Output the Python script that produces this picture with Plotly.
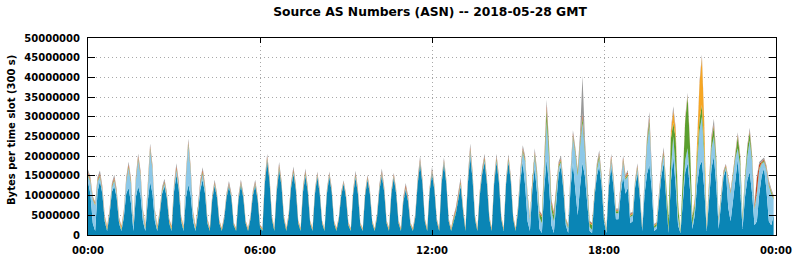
import pandas as pd
import plotly.graph_objects as go

# 5-minute slots (288) for 2018-05-28, values in millions of bytes per slot
slot_times = pd.date_range("2018-05-28 00:00", periods=288, freq="5min")

dark_blue = [
    13.5, 10.5, 3.0, 1.0, 11.0, 13.8, 10.5, 3.5, 1.0, 5.0,
    11.0, 12.4, 9.5, 3.0, 1.0, 4.5, 10.5, 12.0, 8.0, 1.0,
    9.5, 12.4, 10.0, 3.5, 1.0, 8.5, 13.6, 10.5, 3.5, 1.0,
    5.0, 10.5, 12.4, 9.5, 3.0, 1.0, 11.0, 15.3, 11.5, 3.5,
    1.0, 9.5, 12.8, 10.0, 3.5, 1.0, 5.5, 11.5, 14.0, 10.5,
    3.0, 1.0, 9.0, 12.5, 9.5, 3.0, 1.0, 4.0, 9.5, 12.3,
    9.5, 2.5, 1.0, 9.0, 12.6, 9.5, 3.0, 1.0, 4.0, 10.0,
    12.5, 9.0, 2.0, 1.0, 13.0, 18.7, 13.5, 4.0, 1.0, 11.0,
    16.5, 12.5, 4.0, 1.0, 4.5, 12.0, 15.5, 11.5, 3.0, 1.0,
    11.0, 15.0, 11.0, 3.0, 1.0, 10.5, 14.8, 10.5, 3.0, 1.0,
    10.5, 14.8, 11.0, 3.0, 1.0, 4.0, 10.0, 13.0, 9.5, 2.5,
    1.0, 10.5, 14.5, 10.5, 2.5, 1.0, 10.0, 14.0, 10.5, 3.0,
    1.0, 4.5, 11.5, 15.0, 11.0, 3.0, 1.0, 10.5, 14.5, 10.5,
    3.0, 1.0, 8.5, 11.5, 8.5, 2.5, 1.0, 4.5, 13.0, 18.0,
    13.0, 3.5, 1.0, 11.0, 15.5, 11.5, 3.5, 1.0, 13.0, 18.0,
    13.0, 3.5, 1.0, 3.5, 5.5, 9.0, 12.5, 6.0, 1.0, 13.0,
    20.0, 14.0, 4.0, 1.0, 10.0, 15.5, 18.5, 13.0, 4.0, 1.0,
    13.0, 18.5, 13.5, 4.0, 1.0, 13.0, 18.5, 13.5, 4.0, 1.0,
    6.0, 14.0, 18.5, 12.5, 3.5, 1.0, 11.5, 17.0, 10.5, 1.5,
    0.5, 12.0, 19.2, 12.5, 2.5, 0.5, 9.0, 15.5, 17.5, 11.5,
    2.5, 0.5, 12.0, 18.3, 11.5, 5.0, 12.5, 18.3, 15.0, 7.0,
    1.0, 0.5, 9.5, 15.0, 17.5, 12.5, 3.5, 0.5, 12.0, 17.5,
    12.0, 4.0, 4.0, 10.5, 15.0, 10.5, 12.0, 3.0, 3.5, 12.0,
    15.8, 9.5, 1.0, 10.5, 15.5, 17.9, 11.5, 1.0, 1.5, 8.5,
    15.0, 18.3, 8.5, 0.5, 13.5, 20.0, 12.5, 2.5, 0.5, 9.5,
    16.0, 18.3, 11.5, 1.5, 5.0, 13.0, 17.5, 18.7, 11.5, 1.0,
    9.5, 17.0, 20.0, 12.5, 1.5, 8.5, 14.5, 16.6, 7.0, 3.5,
    9.0, 13.5, 19.2, 11.5, 1.5, 9.5, 14.0, 16.0, 10.5, 2.5,
    3.5, 10.5, 15.0, 17.0, 11.5, 3.5, 2.5, 5.0,
]

light_blue = [
    1.5, 3.0, 6.0, 6.5, 2.5, 1.0, 0.8, 0.5, 0.2, 0.5,
    1.0, 1.4, 1.0, 0.5, 0.2, 1.0, 3.0, 5.0, 5.0, 1.5,
    4.0, 6.7, 5.0, 2.0, 0.5, 4.0, 8.0, 6.0, 2.0, 0.3,
    0.3, 0.5, 0.6, 0.4, 0.2, 0.2, 0.8, 1.2, 0.8, 0.3,
    0.3, 5.0, 10.0, 6.0, 1.5, 0.3, 0.8, 1.2, 1.5, 1.0,
    0.3, 0.1, 0.3, 0.3, 0.3, 0.2, 0.1, 0.2, 0.3, 0.3,
    0.3, 0.1, 0.1, 0.3, 0.3, 0.3, 0.1, 0.1, 0.2, 0.3,
    0.3, 0.2, 0.1, 0.1, 0.3, 0.4, 0.3, 0.1, 0.1, 0.3,
    0.4, 0.3, 0.1, 0.1, 0.2, 0.3, 0.4, 0.3, 0.1, 0.1,
    0.3, 0.4, 0.3, 0.1, 0.1, 0.3, 0.3, 0.3, 0.1, 0.1,
    0.3, 0.3, 0.3, 0.1, 0.1, 0.2, 0.3, 0.2, 0.2, 0.1,
    0.1, 0.3, 0.4, 0.3, 0.1, 0.1, 0.3, 0.3, 0.3, 0.1,
    0.1, 0.2, 0.3, 0.4, 0.3, 0.1, 0.1, 0.3, 0.3, 0.3,
    0.1, 0.1, 0.3, 0.3, 0.3, 0.1, 0.1, 0.2, 0.3, 0.4,
    0.3, 0.1, 0.1, 0.3, 0.4, 0.3, 0.1, 0.1, 0.3, 0.4,
    0.3, 0.1, 0.1, 0.3, 0.3, 0.4, 0.5, 0.3, 0.1, 0.5,
    1.2, 0.8, 0.3, 0.1, 0.3, 0.4, 0.5, 0.4, 0.2, 0.1,
    0.3, 0.5, 0.4, 0.2, 0.1, 0.3, 0.5, 0.4, 0.2, 0.1,
    0.5, 1.5, 2.5, 6.0, 6.0, 3.0, 2.0, 3.0, 4.0, 3.0,
    2.5, 4.0, 9.7, 7.0, 4.0, 3.0, 2.0, 1.5, 1.0, 1.0,
    1.0, 1.2, 3.0, 6.4, 9.0, 10.0, 10.0, 10.2, 6.0, 4.0,
    1.0, 0.8, 1.0, 1.5, 2.0, 1.5, 0.8, 0.5, 1.0, 1.5,
    1.5, 1.5, 1.5, 2.5, 3.5, 3.5, 3.0, 1.5, 1.5, 1.0,
    1.0, 1.0, 0.4, 3.0, 7.0, 9.7, 5.0, 0.8, 0.8, 1.0,
    1.5, 2.0, 2.0, 0.5, 3.0, 5.0, 4.0, 2.0, 0.1, 2.0,
    3.0, 3.7, 3.0, 1.0, 2.0, 5.0, 9.0, 11.3, 8.0, 0.5,
    3.0, 5.0, 5.0, 5.0, 2.0, 1.0, 0.8, 0.5, 7.0, 7.0,
    6.0, 6.0, 2.8, 6.0, 2.0, 4.0, 6.0, 8.0, 8.0, 4.0,
    7.0, 6.0, 3.0, 1.5, 5.0, 9.0, 8.0, 4.0,
]

green = [
    0.3, 0.3, 0.2, 0.2, 0.3, 0.3, 0.2, 0.2, 0.3, 0.2,
    0.3, 0.3, 0.2, 0.2, 0.3, 0.2, 0.3, 0.4, 0.3, 0.3,
    0.3, 0.4, 0.3, 0.2, 0.3, 0.3, 0.4, 0.3, 0.2, 0.3,
    0.2, 0.3, 0.3, 0.2, 0.2, 0.3, 0.3, 0.3, 0.3, 0.2,
    0.3, 0.3, 0.4, 0.3, 0.2, 0.3, 0.2, 0.3, 0.4, 0.3,
    0.2, 0.2, 0.2, 0.3, 0.2, 0.1, 0.2, 0.1, 0.2, 0.2,
    0.2, 0.1, 0.2, 0.2, 0.3, 0.2, 0.1, 0.2, 0.1, 0.2,
    0.3, 0.2, 0.1, 0.2, 0.3, 0.3, 0.3, 0.2, 0.2, 0.2,
    0.4, 0.3, 0.2, 0.2, 0.2, 0.3, 0.4, 0.3, 0.2, 0.2,
    0.3, 0.4, 0.3, 0.1, 0.2, 0.2, 0.2, 0.2, 0.1, 0.2,
    0.2, 0.2, 0.2, 0.1, 0.2, 0.1, 0.2, 0.1, 0.1, 0.1,
    0.1, 0.2, 0.3, 0.2, 0.1, 0.1, 0.2, 0.2, 0.2, 0.1,
    0.1, 0.2, 0.3, 0.3, 0.2, 0.1, 0.2, 0.2, 0.2, 0.2,
    0.1, 0.2, 0.2, 0.2, 0.2, 0.1, 0.2, 0.1, 0.3, 0.3,
    0.2, 0.1, 0.2, 0.2, 0.3, 0.2, 0.1, 0.2, 0.2, 0.3,
    0.2, 0.1, 0.2, 0.2, 0.3, 0.3, 0.4, 0.2, 0.2, 0.3,
    0.5, 0.4, 0.2, 0.2, 0.3, 0.3, 0.4, 0.3, 0.2, 0.2,
    0.3, 0.4, 0.3, 0.2, 0.2, 0.3, 0.4, 0.3, 0.2, 0.2,
    0.3, 0.4, 0.5, 0.5, 0.4, 0.3, 0.5, 0.6, 0.8, 1.0,
    1.5, 1.5, 3.0, 2.0, 1.5, 1.5, 0.8, 0.6, 0.5, 0.4,
    0.3, 0.4, 0.4, 0.5, 0.6, 0.8, 1.0, 1.3, 1.0, 1.0,
    1.0, 1.2, 0.6, 0.7, 0.8, 0.6, 0.4, 0.3, 0.3, 0.4,
    0.4, 0.5, 0.5, 0.5, 0.5, 0.4, 0.4, 0.4, 0.3, 0.4,
    0.4, 0.3, 0.2, 0.5, 1.0, 1.5, 1.0, 0.5, 0.5, 0.5,
    0.5, 0.5, 1.0, 3.0, 8.0, 3.5, 8.0, 3.0, 0.3, 3.0,
    10.0, 13.0, 8.0, 1.9, 1.0, 2.0, 3.0, 3.0, 2.0, 0.2,
    1.0, 2.0, 2.5, 1.5, 0.5, 0.3, 0.3, 0.3, 0.2, 0.2,
    0.5, 1.5, 3.0, 2.0, 0.9, 1.0, 2.0, 2.0, 1.0, 0.3,
    0.3, 0.3, 0.3, 0.4, 0.3, 0.3, 0.3, 0.3,
]

orange = [
    0.2, 0.2, 0.2, 0.3, 0.1, 0.2, 0.2, 0.3, 0.4, 0.2,
    0.1, 0.2, 0.2, 0.3, 0.5, 0.2, 0.1, 0.2, 0.3, 0.4,
    0.2, 0.2, 0.2, 0.3, 0.5, 0.2, 0.2, 0.2, 0.3, 0.5,
    0.2, 0.1, 0.1, 0.2, 0.3, 0.5, 0.1, 0.2, 0.2, 0.3,
    0.4, 0.2, 0.2, 0.2, 0.3, 0.4, 0.2, 0.1, 0.2, 0.2,
    0.2, 0.3, 0.1, 0.1, 0.1, 0.2, 0.3, 0.1, 0.1, 0.1,
    0.1, 0.2, 0.3, 0.1, 0.1, 0.1, 0.2, 0.3, 0.1, 0.1,
    0.1, 0.1, 0.2, 0.3, 0.1, 0.2, 0.1, 0.2, 0.3, 0.1,
    0.2, 0.1, 0.2, 0.3, 0.1, 0.1, 0.1, 0.1, 0.2, 0.3,
    0.1, 0.1, 0.1, 0.2, 0.3, 0.1, 0.1, 0.1, 0.2, 0.2,
    0.1, 0.1, 0.1, 0.2, 0.3, 0.1, 0.1, 0.1, 0.2, 0.3,
    0.3, 0.1, 0.1, 0.1, 0.2, 0.3, 0.1, 0.1, 0.1, 0.2,
    0.3, 0.1, 0.1, 0.1, 0.1, 0.2, 0.4, 0.1, 0.1, 0.1,
    0.2, 0.3, 0.1, 0.1, 0.1, 0.2, 0.3, 0.1, 0.1, 0.2,
    0.1, 0.2, 0.3, 0.1, 0.1, 0.1, 0.2, 0.3, 0.1, 0.1,
    0.1, 0.2, 0.3, 0.2, 0.2, 0.2, 0.1, 0.2, 0.3, 0.1,
    0.2, 0.1, 0.2, 0.3, 0.1, 0.1, 0.2, 0.1, 0.2, 0.3,
    0.1, 0.2, 0.1, 0.2, 0.3, 0.1, 0.2, 0.1, 0.2, 0.3,
    0.1, 0.1, 0.2, 0.2, 0.2, 0.3, 0.1, 0.2, 0.2, 0.2,
    0.2, 0.2, 0.3, 0.2, 0.2, 0.2, 0.1, 0.1, 0.2, 0.2,
    0.2, 0.2, 0.1, 0.2, 0.2, 0.2, 0.2, 0.3, 0.2, 0.2,
    0.2, 0.2, 0.1, 0.1, 0.2, 0.1, 0.2, 0.2, 0.1, 0.2,
    0.1, 0.2, 0.2, 0.1, 0.2, 0.2, 0.2, 0.2, 0.2, 0.1,
    0.2, 0.1, 0.2, 0.1, 0.2, 0.3, 0.2, 0.2, 0.2, 0.1,
    0.1, 0.2, 0.2, 0.1, 1.5, 3.0, 2.0, 0.8, 0.1, 0.3,
    0.3, 0.3, 0.3, 0.2, 1.0, 4.0, 9.0, 12.0, 6.0, 0.8,
    0.2, 0.2, 0.2, 0.2, 0.2, 0.1, 0.1, 0.2, 0.2, 0.2,
    0.1, 0.1, 0.2, 0.2, 0.2, 0.1, 0.1, 0.2, 0.2, 0.3,
    0.2, 0.2, 0.1, 0.1, 0.2, 0.2, 0.2, 0.2,
]

red = [
    0.4, 0.3, 0.2, 0.2, 0.3, 0.4, 0.3, 0.2, 0.2, 0.2,
    0.3, 0.4, 0.3, 0.2, 0.2, 0.2, 0.3, 0.4, 0.3, 0.2,
    0.3, 0.4, 0.3, 0.2, 0.2, 0.3, 0.4, 0.3, 0.2, 0.2,
    0.2, 0.3, 0.3, 0.2, 0.2, 0.2, 0.3, 0.6, 0.4, 0.2,
    0.2, 0.3, 0.4, 0.3, 0.2, 0.2, 0.3, 0.4, 0.5, 0.3,
    0.2, 0.2, 0.2, 0.3, 0.2, 0.1, 0.1, 0.2, 0.2, 0.3,
    0.2, 0.1, 0.1, 0.2, 0.3, 0.2, 0.1, 0.1, 0.2, 0.2,
    0.3, 0.2, 0.1, 0.1, 0.3, 0.4, 0.3, 0.2, 0.1, 0.3,
    0.4, 0.3, 0.2, 0.1, 0.2, 0.3, 0.4, 0.3, 0.1, 0.1,
    0.3, 0.4, 0.3, 0.1, 0.1, 0.2, 0.3, 0.2, 0.1, 0.1,
    0.2, 0.3, 0.2, 0.1, 0.1, 0.1, 0.2, 0.2, 0.2, 0.1,
    0.1, 0.2, 0.4, 0.3, 0.1, 0.1, 0.2, 0.3, 0.2, 0.1,
    0.1, 0.2, 0.3, 0.4, 0.3, 0.1, 0.1, 0.2, 0.3, 0.2,
    0.1, 0.1, 0.3, 0.6, 0.4, 0.1, 0.1, 0.2, 0.3, 0.4,
    0.3, 0.1, 0.1, 0.2, 0.3, 0.2, 0.1, 0.1, 0.3, 0.3,
    0.2, 0.1, 0.1, 0.3, 0.4, 0.5, 0.4, 0.2, 0.1, 0.3,
    0.5, 0.3, 0.1, 0.1, 0.2, 0.3, 0.4, 0.3, 0.1, 0.1,
    0.3, 0.4, 0.3, 0.1, 0.1, 0.3, 0.3, 0.2, 0.1, 0.1,
    0.2, 0.3, 0.4, 0.3, 0.2, 0.1, 0.3, 0.4, 0.3, 0.3,
    0.3, 0.5, 1.0, 0.6, 0.5, 0.5, 0.3, 0.3, 0.3, 0.2,
    0.1, 0.2, 0.3, 0.5, 0.3, 0.3, 0.4, 0.8, 0.5, 0.3,
    0.2, 0.2, 0.2, 0.3, 0.3, 0.2, 0.1, 0.1, 0.3, 0.5,
    0.3, 0.2, 0.2, 0.3, 0.5, 0.3, 0.4, 0.2, 0.2, 0.2,
    0.3, 0.2, 0.1, 0.3, 0.5, 0.6, 0.3, 0.1, 0.1, 0.2,
    0.3, 0.5, 0.3, 0.1, 0.2, 0.3, 0.2, 0.1, 0.1, 0.1,
    0.2, 0.2, 0.2, 0.1, 0.1, 0.1, 0.2, 0.2, 0.2, 0.1,
    0.2, 0.4, 0.5, 0.3, 0.1, 0.1, 0.2, 0.2, 0.2, 0.2,
    0.3, 0.3, 0.3, 0.3, 0.1, 0.2, 0.2, 0.3, 0.3, 0.4,
    3.5, 1.0, 0.3, 0.3, 0.3, 0.3, 0.3, 0.2,
]

gray = [
    0.7, 0.5, 0.3, 0.2, 0.5, 0.7, 0.5, 0.3, 0.1, 0.3,
    0.5, 0.6, 0.5, 0.3, 0.1, 0.3, 0.5, 0.6, 0.5, 0.2,
    0.5, 0.6, 0.5, 0.3, 0.1, 0.4, 0.6, 0.5, 0.3, 0.1,
    0.3, 0.5, 0.6, 0.5, 0.3, 0.1, 0.5, 0.6, 0.5, 0.3,
    0.1, 0.5, 0.7, 0.5, 0.3, 0.1, 0.3, 0.5, 0.6, 0.5,
    0.3, 0.1, 0.4, 0.5, 0.4, 0.2, 0.1, 0.3, 0.4, 0.5,
    0.4, 0.2, 0.1, 0.4, 0.5, 0.4, 0.2, 0.1, 0.3, 0.4,
    0.5, 0.4, 0.2, 0.1, 0.4, 0.6, 0.4, 0.2, 0.1, 0.4,
    0.6, 0.4, 0.2, 0.1, 0.3, 0.4, 0.6, 0.4, 0.2, 0.1,
    0.4, 0.6, 0.4, 0.2, 0.1, 0.3, 0.4, 0.4, 0.2, 0.1,
    0.3, 0.4, 0.4, 0.2, 0.1, 0.2, 0.3, 0.3, 0.3, 0.2,
    0.1, 0.4, 0.6, 0.4, 0.2, 0.1, 0.3, 0.4, 0.4, 0.2,
    0.1, 0.3, 0.5, 0.7, 0.4, 0.2, 0.1, 0.3, 0.4, 0.4,
    0.2, 0.1, 0.4, 0.5, 0.4, 0.2, 0.1, 0.3, 0.5, 0.7,
    0.5, 0.2, 0.1, 0.4, 0.7, 0.5, 0.2, 0.1, 0.4, 0.6,
    0.4, 0.2, 0.1, 0.3, 0.4, 0.5, 0.7, 0.3, 0.1, 0.5,
    0.8, 0.5, 0.2, 0.1, 0.4, 0.6, 0.6, 0.5, 0.2, 0.1,
    0.4, 0.6, 0.5, 0.2, 0.1, 0.4, 0.6, 0.5, 0.2, 0.1,
    0.3, 0.6, 0.7, 0.5, 0.3, 0.2, 0.5, 0.8, 0.5, 0.3,
    0.2, 0.6, 1.1, 0.6, 0.4, 0.3, 0.4, 0.6, 0.7, 0.5,
    0.2, 0.2, 0.5, 0.7, 0.6, 0.4, 2.0, 9.5, 2.0, 0.5,
    0.2, 0.2, 0.4, 0.6, 0.7, 0.5, 0.3, 0.2, 0.4, 0.5,
    0.4, 0.3, 0.3, 0.4, 0.5, 0.4, 0.5, 0.3, 0.2, 0.4,
    0.5, 0.4, 0.2, 0.5, 0.8, 1.3, 0.6, 0.2, 0.2, 0.4,
    0.6, 0.8, 0.5, 0.1, 0.5, 0.9, 0.6, 0.3, 0.1, 0.3,
    0.5, 0.6, 0.5, 0.3, 0.3, 0.4, 0.5, 0.6, 0.5, 0.2,
    0.4, 0.8, 1.3, 0.7, 0.3, 0.3, 0.4, 0.3, 0.3, 0.3,
    0.2, 0.4, 0.6, 0.5, 0.2, 0.3, 0.5, 0.7, 0.5, 0.3,
    0.5, 0.5, 0.4, 0.4, 0.4, 0.6, 0.5, 0.4,
]

series_names = ["AS A", "AS B", "AS C", "AS D", "AS E", "Other"]
series_values = [dark_blue, light_blue, green, orange, red, gray]
series_colors = ["#0a85b5", "#8dc8e8", "#5a9f2e", "#f6a623", "#c4411c", "#999999"]

y_tick_vals = [0, 5e6, 10e6, 15e6, 20e6, 25e6, 30e6, 35e6, 40e6, 45e6, 50e6]
x_tick_vals = ["2018-05-28 00:00", "2018-05-28 06:00", "2018-05-28 12:00",
               "2018-05-28 18:00", "2018-05-29 00:00"]
x_tick_text = ["00:00", "06:00", "12:00", "18:00", "00:00"]

fig = go.Figure()
for name, vals, col in zip(series_names, series_values, series_colors):
    fig.add_trace(go.Scatter(
        x=slot_times, y=[v * 1e6 for v in vals], name=name,
        stackgroup="one", mode="lines", line=dict(width=0, color=col),
        fillcolor=col, showlegend=False,
    ))

tick_font = dict(family="DejaVu Sans", size=10, color="black", weight="bold")

fig.update_layout(
    width=794, height=260,
    margin=dict(l=88, r=18, t=38, b=25),
    paper_bgcolor="white", plot_bgcolor="white",
    title=dict(text="Source AS Numbers (ASN) -- 2018-05-28 GMT",
               font=dict(family="DejaVu Sans", size=12.3, color="black", weight="bold"),
               x=430 / 794, xanchor="center", y=1 - 12 / 260, yanchor="middle"),
    xaxis=dict(
        type="date", range=["2018-05-28 00:00", "2018-05-29 00:00"],
        tickvals=x_tick_vals, ticktext=x_tick_text, tickfont=tick_font,
        ticks="inside", ticklen=5, tickcolor="black",
        showline=True, linecolor="black", linewidth=1, mirror="ticks",
        showgrid=True, gridcolor="#a8a8a8", griddash="1px,3px", gridwidth=1,
        zeroline=False, ticklabelstandoff=6, automargin=False,
    ),
    yaxis=dict(
        range=[0, 50e6], tickvals=y_tick_vals, tickformat="d", tickfont=tick_font,
        ticks="inside", ticklen=7, tickcolor="black",
        showline=True, linecolor="black", linewidth=1, mirror="ticks",
        showgrid=True, gridcolor="#a8a8a8", griddash="1px,3px", gridwidth=1,
        zeroline=False, ticklabelstandoff=5, automargin=False,
    ),
    annotations=[dict(
        text="Bytes per time slot (300 s)", textangle=-90,
        xref="paper", yref="paper", x=(12 - 88) / 688, y=0.533,
        xanchor="center", yanchor="middle", showarrow=False,
        font=dict(family="DejaVu Sans", size=10, color="black", weight="bold"),
    )],
)

fig.write_html("out.html")
